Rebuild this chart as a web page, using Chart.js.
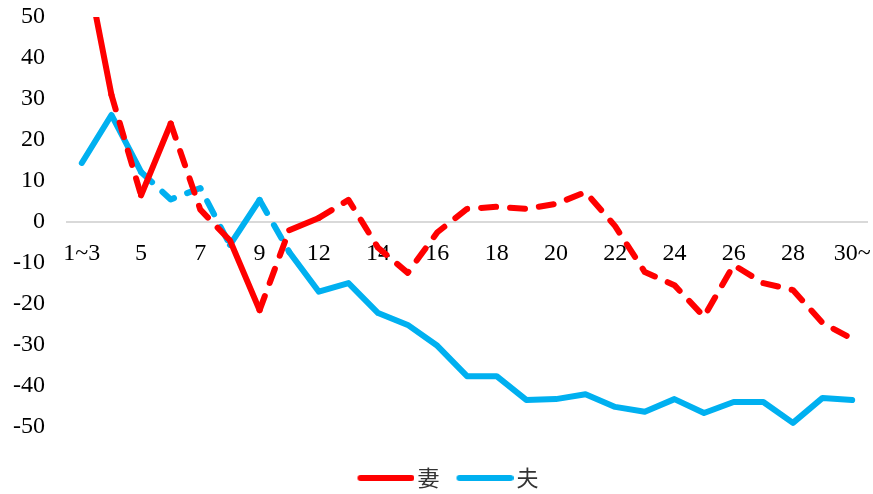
<!DOCTYPE html>
<html>
<head>
<meta charset="utf-8">
<script src="https://cdn.jsdelivr.net/npm/chart.js@4"></script>
<style>
  html, body { margin: 0; padding: 0; background: #fff; }
  #wrap { width: 873px; height: 494px; position: relative; }
</style>
</head>
<body>
<div id="wrap"><canvas id="trendChart"></canvas></div>
<script>
// Categories (x axis)
const categories = ['1~3', '4', '5', '6', '7', '8', '9', '10~11', '12', '13', '14', '15', '16',
    '17', '18', '19', '20', '21', '22', '23', '24', '25', '26', '27', '28', '29', '30~'];

// Series values
const wifeValues = [68, 31, 6.5, 24, 3, -4.5, -21.5, -2, 1, 5.4, -6.3, -12.4, -2.5, 3.2,
    3.7, 3.2, 4.4, 7.3, -1, -12.2, -15.4, -23.1, -10.5, -14.9, -16.6, -24.6, -28.5];
const husbandValues = [14.4, 26.1, 12.2, 5.5, 8.3, -5.6, 5.4, -7.3, -17, -14.9, -22.2, -25.1,
    -30.2, -37.6, -37.6, -43.4, -43.2, -42, -45.1, -46.3, -43.2, -46.6, -43.9, -43.9, -49, -42.9, -43.4];

// Segments drawn dashed (1) or solid (0), one flag per segment between points
const wifeDashed = [0, 1, 0, 1, 1, 0, 1, 0, 1, 1, 1, 1, 1, 1, 1, 1, 1, 1, 1, 1, 1, 1, 1, 1, 1, 1];
const husbandDashed = [0, 0, 1, 1, 1, 0, 1, 0, 0, 0, 0, 0, 0, 0, 0, 0, 0, 0, 0, 0, 0, 0, 0, 0, 0, 0];

// Y axis ticks
const yTicks = [50, 40, 30, 20, 10, 0, -10, -20, -30, -40, -50];

const LINE_W = 6;
const DASH = [15, 14];
const tickFont = { family: "'Liberation Serif', serif", size: 24 };

// legend marker: a short line drawn a bit to the left so the text sits close to it
function legendLine(color) {
    const c = document.createElement('canvas');
    c.width = 65;
    c.height = 8;
    const g = c.getContext('2d');
    g.strokeStyle = color;
    g.lineWidth = LINE_W;
    g.lineCap = 'round';
    g.beginPath();
    g.moveTo(8 + LINE_W / 2, 4);
    g.lineTo(65 - LINE_W / 2, 4);
    g.stroke();
    return c;
}

// drop the extra space chart.js keeps for edge labels
function noEdgePadding(axis) {
    axis.paddingTop = 0;
    axis.paddingBottom = 0;
    axis.paddingLeft = 0;
    axis.paddingRight = 0;
}

// nudge the legend a little to the right, like the original
const legendShift = {
    id: 'legendShift',
    afterLayout(chart) {
        chart.legend.left += 8;
        chart.legend.right += 8;
    }
};

const ctx = document.getElementById('trendChart').getContext('2d');
const trendChart = new Chart(ctx, {
    type: 'line',
    data: {
        labels: categories,
        datasets: [{
            label: '妻',
            data: wifeValues,
            borderColor: '#FF0000',
            backgroundColor: '#FF0000',
            borderWidth: LINE_W,
            borderCapStyle: 'round',
            borderJoinStyle: 'round',
            pointRadius: 0,
            pointStyle: legendLine('#FF0000'),
            tension: 0,
            segment: {
                borderDash: c => wifeDashed[c.p0DataIndex] ? DASH : undefined
            }
        }, {
            label: '夫',
            data: husbandValues,
            borderColor: '#00B0F0',
            backgroundColor: '#00B0F0',
            borderWidth: LINE_W,
            borderCapStyle: 'round',
            borderJoinStyle: 'round',
            pointRadius: 0,
            pointStyle: legendLine('#00B0F0'),
            tension: 0,
            segment: {
                borderDash: c => husbandDashed[c.p0DataIndex] ? DASH : undefined
            }
        }]
    },
    options: {
        responsive: true,
        maintainAspectRatio: false,
        animation: false,
        layout: {
            padding: { left: 13, right: 6, top: 17, bottom: -5 }
        },
        scales: {
            x: {
                position: { y: 0 },
                offset: true,
                afterFit: noEdgePadding,
                grid: { display: false, drawTicks: false },
                border: { display: true, color: '#D9D9D9', width: 2 },
                ticks: {
                    autoSkip: false,
                    maxRotation: 0,
                    padding: 17,
                    color: '#000',
                    font: tickFont,
                    callback: function (val, i) {
                        return i % 2 === 0 ? categories[i] : '';
                    }
                }
            },
            y: {
                min: -50,
                max: 50,
                afterBuildTicks: axis => {
                    axis.ticks = yTicks.map(v => ({ value: v }));
                },
                afterFit: axis => {
                    noEdgePadding(axis);
                    axis.width -= 22;   // padding is counted twice in the width
                },
                grid: { display: false, drawTicks: false },
                border: { display: false },
                ticks: {
                    padding: 22,
                    color: '#000',
                    font: tickFont
                }
            }
        },
        plugins: {
            legend: {
                position: 'bottom',
                title: {
                    display: true,
                    text: '',
                    font: { size: 1 },
                    padding: { top: 21.8, bottom: 0 }
                },
                labels: {
                    usePointStyle: true,
                    pointStyleWidth: 49,
                    padding: 17,
                    color: '#333',
                    font: { family: "'Noto Sans CJK JP', sans-serif", size: 22 }
                }
            },
            tooltip: { enabled: false }
        }
    },
    plugins: [legendShift]
});
</script>
</body>
</html>
